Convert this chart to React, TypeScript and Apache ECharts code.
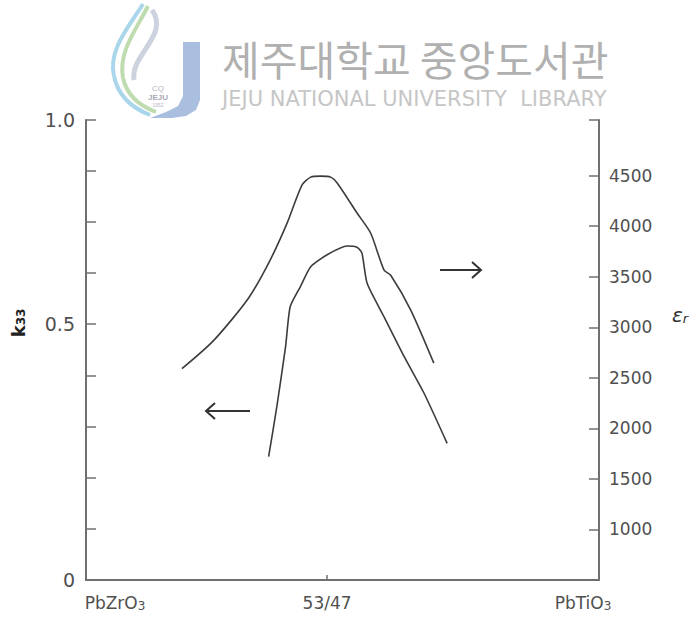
import React, { useEffect, useRef } from "react";
import * as echarts from "echarts";

// Upper curve: relative permittivity (right axis)
const epsX = [18.7, 24.9, 31.7, 35.9, 39.2, 42.1, 43.8, 45.7, 47.7, 49.0, 52.9, 55.5, 58.1, 59.4, 63.3, 67.8];
const epsY = [2590, 2870, 3290, 3665, 4030, 4405, 4485, 4495, 4485, 4425, 4125, 3930, 3565, 3515, 3170, 2645];

// Lower curve: coupling factor k33 (left axis)
const kX = [35.6, 37.2, 38.9, 39.8, 41.8, 43.8, 47.0, 50.9, 52.9, 53.8, 54.8, 58.1, 62.0, 65.9, 70.4];
const kY = [0.268, 0.377, 0.507, 0.594, 0.638, 0.681, 0.707, 0.726, 0.723, 0.71, 0.645, 0.572, 0.486, 0.406, 0.297];

// Axis ticks / labels
const kTicks = [0, 0.111, 0.222, 0.333, 0.444, 0.556, 0.667, 0.778, 0.889, 1.0];
const kTickLabels = ["0", "", "", "", "", "0.5", "", "", "", "1.0"];
const epsTicks = [1000, 1500, 2000, 2500, 3000, 3500, 4000, 4500];
const compTicks = [0, 47, 100];
const compLabels = ["{gl| }{t|PbZrO}{s|3}", "{t|53/47}", "{t|PbTiO}{s|3}{gr| }"];

export default function App() {
  const ref = useRef<HTMLDivElement>(null);

  useEffect(() => {
    if (!ref.current) return;
    const chart = echarts.init(ref.current, null, { renderer: "svg" });
    const axisColor = "#707070";
    const textColor = "#505050";
    const font = "DejaVu Sans";

    const option: any = {
      animation: false,
      backgroundColor: "#ffffff",
      grid: { left: 86, right: 97, top: 120, bottom: 41, containLabel: false, outerBoundsMode: "none" },
      xAxis: {
        type: "value",
        min: 0,
        max: 100,
        axisLine: { show: true, lineStyle: { color: axisColor, width: 2 } },
        axisTick: { show: true, inside: true, length: 5, customValues: [47], lineStyle: { color: axisColor, width: 1.5 } },
        splitLine: { show: false },
        axisLabel: {
          customValues: compTicks,
          margin: 12,
          formatter: (v: number) => {
            const i = compTicks.indexOf(v);
            return i >= 0 ? compLabels[i] : "";
          },
          rich: {
            t: { fontFamily: font, fontSize: 17, color: textColor, lineHeight: 22 },
            s: { fontFamily: font, fontSize: 12, color: textColor, lineHeight: 22, padding: [6, 0, 0, 0] },
            gl: { width: 58 },
            gr: { width: 32 },
          },
        },
      },
      yAxis: [
        {
          type: "value",
          position: "left",
          min: 0,
          max: 1,
          axisLine: { show: true, lineStyle: { color: axisColor, width: 2 } },
          axisTick: { show: true, inside: true, length: 10, customValues: kTicks, lineStyle: { color: axisColor, width: 1.5 } },
          splitLine: { show: false },
          axisLabel: {
            customValues: kTicks,
            margin: 11,
            fontFamily: font,
            fontSize: 19,
            color: textColor,
            formatter: (v: number) => {
              const i = kTicks.indexOf(v);
              return i >= 0 ? kTickLabels[i] : "";
            },
          },
        },
        {
          type: "value",
          position: "right",
          min: 500,
          max: 5050,
          axisLine: { show: true, lineStyle: { color: axisColor, width: 2 } },
          axisTick: { show: true, inside: true, length: 10, customValues: [...epsTicks, 5050], lineStyle: { color: axisColor, width: 1.5 } },
          splitLine: { show: false },
          axisLabel: {
            customValues: epsTicks,
            margin: 10,
            fontFamily: font,
            fontSize: 17,
            color: textColor,
            formatter: (v: number) => String(v),
          },
        },
      ],
      series: [
        {
          type: "line",
          yAxisIndex: 1,
          data: epsX.map((x, i) => [x, epsY[i]]),
          showSymbol: false,
          smooth: 0.25,
          lineStyle: { color: "#3c3c3c", width: 1.6 },
        },
        {
          type: "line",
          yAxisIndex: 0,
          data: kX.map((x, i) => [x, kY[i]]),
          showSymbol: false,
          smooth: 0.2,
          lineStyle: { color: "#3c3c3c", width: 1.6 },
        },
      ],
      graphic: {
        elements: [
          // watermark logo
          { type: "bezierCurve", shape: { x1: 143, y1: 4, cpx1: 128, cpy1: 28, cpx2: 108, cpy2: 50, x2: 114, y2: 76 }, style: { stroke: "#a9d6ea", lineWidth: 4, fill: null } },
          { type: "bezierCurve", shape: { x1: 114, y1: 76, cpx1: 118, cpy1: 96, cpx2: 132, cpy2: 108, x2: 150, y2: 115 }, style: { stroke: "#a9d6ea", lineWidth: 4, fill: null } },
          { type: "bezierCurve", shape: { x1: 148, y1: 6, cpx1: 136, cpy1: 30, cpx2: 118, cpy2: 52, x2: 123, y2: 78 }, style: { stroke: "#bfdcb0", lineWidth: 4, fill: null } },
          { type: "bezierCurve", shape: { x1: 123, y1: 78, cpx1: 127, cpy1: 96, cpx2: 140, cpy2: 106, x2: 156, y2: 112 }, style: { stroke: "#bfdcb0", lineWidth: 4, fill: null } },
          { type: "bezierCurve", shape: { x1: 152, y1: 10, cpx1: 170, cpy1: 35, cpx2: 130, cpy2: 55, x2: 134, y2: 80 }, style: { stroke: "#ccd2de", lineWidth: 5, fill: null } },
          { type: "polygon", shape: { points: [[183, 42], [200, 42], [200, 100], [196, 110], [186, 116], [172, 118], [150, 118], [166, 112], [178, 106], [183, 96]] }, style: { fill: "#aabfe0" } },
          { type: "text", x: 158, y: 88, style: { text: "CQ", font: "8px sans-serif", fill: "#b5b5c5", align: "center", verticalAlign: "middle" } },
          { type: "text", x: 158, y: 97, style: { text: "JEJU", font: "bold 8px sans-serif", fill: "#a8a8b8", align: "center", verticalAlign: "middle" } },
          { type: "text", x: 158, y: 105, style: { text: "1952", font: "5px sans-serif", fill: "#b5b5c5", align: "center", verticalAlign: "middle" } },
          // watermark text
          { type: "text", x: 222, y: 58, style: { text: "제주대학교 중앙도서관", font: "41px 'Noto Sans CJK KR'", fill: "#b0b0b0", align: "left", verticalAlign: "middle" } },
          { type: "text", x: 222, y: 99, style: { text: "JEJU NATIONAL UNIVERSITY  LIBRARY", font: "21px 'DejaVu Sans'", fill: "#c6c6c6", align: "left", verticalAlign: "middle" } },
          // axis names
          {
            type: "text", x: 18, y: 323, rotation: Math.PI / 2,
            style: {
              text: "{k|k}{s|33}", align: "center", verticalAlign: "middle",
              rich: {
                k: { fontFamily: font, fontWeight: "bold", fontSize: 18, fill: "#222" },
                s: { fontFamily: font, fontWeight: "bold", fontSize: 12, fill: "#222", padding: [6, 0, 0, 0] },
              },
            },
          },
          {
            type: "text", x: 680, y: 315,
            style: {
              text: "{e|ε}{r|r}", align: "center", verticalAlign: "middle",
              rich: {
                e: { fontFamily: font, fontStyle: "italic", fontSize: 20, fill: "#333" },
                r: { fontFamily: font, fontStyle: "italic", fontSize: 13, fill: "#333", padding: [6, 0, 0, 0] },
              },
            },
          },
          // arrows
          { type: "line", shape: { x1: 440, y1: 270, x2: 481, y2: 270 }, style: { stroke: "#333", lineWidth: 2 } },
          { type: "polyline", shape: { points: [[472, 262], [481, 270], [472, 278]] }, style: { stroke: "#333", lineWidth: 2, fill: null } },
          { type: "line", shape: { x1: 206, y1: 411, x2: 250, y2: 411 }, style: { stroke: "#333", lineWidth: 2 } },
          { type: "polyline", shape: { points: [[215, 403], [206, 411], [215, 419]] }, style: { stroke: "#333", lineWidth: 2, fill: null } },
        ],
      },
    };
    chart.setOption(option);
    return () => chart.dispose();
  }, []);

  return <div ref={ref} style={{ position: "absolute", left: 0, top: 0, width: 696, height: 621 }} />;
}
